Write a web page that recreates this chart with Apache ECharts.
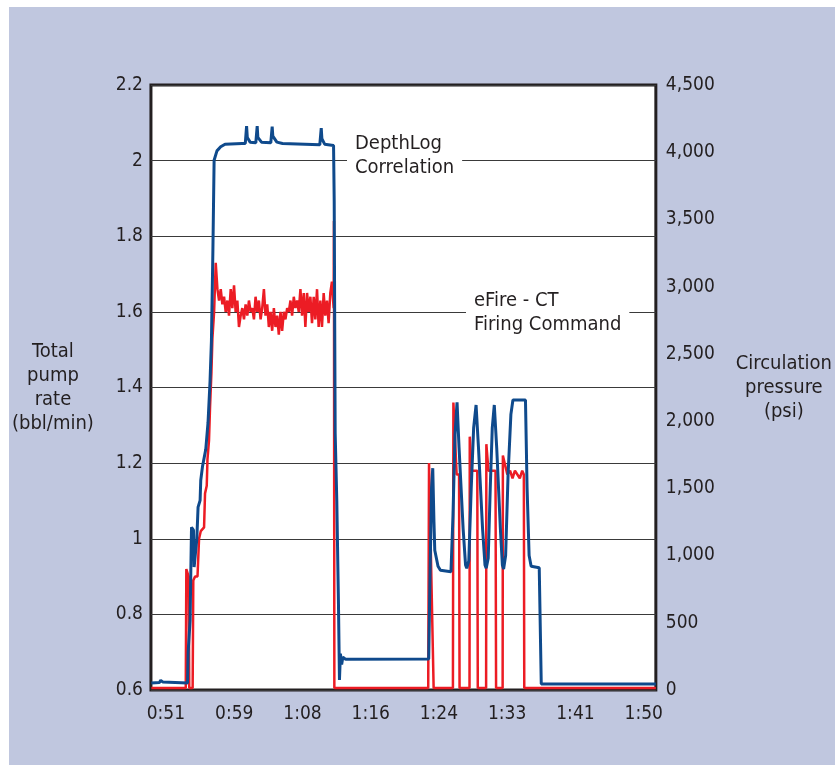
<!DOCTYPE html>
<html>
<head>
<meta charset="utf-8">
<script src="https://cdn.jsdelivr.net/npm/echarts@6/dist/echarts.min.js"></script>
<style>
  html, body { margin: 0; padding: 0; background: #fff; }
  #main { position: absolute; left: 9px; top: 7px; width: 826px; height: 758px; }
</style>
</head>
<body>
<div id="main"></div>
<script>
// time axis in minutes, tick labels as printed on the chart
var tickMinutes = [51, 59.43, 67.86, 76.29, 84.71, 93.14, 101.57, 110];
var tickLabels = ['0:51', '0:59', '1:08', '1:16', '1:24', '1:33', '1:41', '1:50'];

// total pump rate, bbl/min  [minute, value]
var pumpRate = [
  [49.2, 0.605], [53.45, 0.605], [53.52, 0.92], [53.8, 0.9], [53.88, 0.605],
  [54.3, 0.605], [54.38, 0.89], [54.6, 0.9], [54.9, 0.9], [55.09, 1.0],
  [55.3, 1.02], [55.71, 1.03], [55.83, 1.12], [56.04, 1.14], [56.13, 1.21],
  [56.32, 1.26], [56.45, 1.35], [56.62, 1.44], [56.74, 1.53], [56.95, 1.6],
  [57.15, 1.73], [57.36, 1.66], [57.56, 1.63], [57.77, 1.66], [57.97, 1.62],
  [58.18, 1.64], [58.38, 1.6], [58.59, 1.63], [58.79, 1.59], [59.0, 1.66],
  [59.2, 1.61], [59.41, 1.67], [59.61, 1.6], [59.82, 1.63], [60.02, 1.56],
  [60.23, 1.59], [60.43, 1.61], [60.64, 1.58], [60.84, 1.62], [61.05, 1.59],
  [61.25, 1.63], [61.46, 1.6], [61.66, 1.61], [61.87, 1.58], [62.07, 1.64],
  [62.28, 1.6], [62.48, 1.63], [62.69, 1.58], [62.89, 1.61], [63.1, 1.66],
  [63.3, 1.59], [63.51, 1.62], [63.71, 1.56], [63.92, 1.6], [64.12, 1.55],
  [64.33, 1.61], [64.53, 1.56], [64.74, 1.59], [64.94, 1.54], [65.15, 1.6],
  [65.35, 1.55], [65.56, 1.6], [65.76, 1.58], [65.97, 1.61], [66.17, 1.6],
  [66.38, 1.63], [66.58, 1.59], [66.79, 1.64], [66.99, 1.61], [67.2, 1.63],
  [67.4, 1.6], [67.61, 1.66], [67.81, 1.59], [68.02, 1.65], [68.22, 1.56],
  [68.43, 1.65], [68.63, 1.6], [68.84, 1.64], [69.04, 1.57], [69.25, 1.64],
  [69.45, 1.58], [69.66, 1.66], [69.86, 1.56], [70.07, 1.63], [70.27, 1.56],
  [70.48, 1.65], [70.68, 1.59], [70.89, 1.63], [71.09, 1.57], [71.3, 1.65],
  [71.5, 1.68], [71.71, 1.61], [71.75, 1.84], [71.8, 0.605],
  [83.39, 0.605], [83.49, 1.2], [83.7, 1.2], [84.06, 0.605],
  [86.44, 0.605], [86.5, 1.36], [86.65, 1.36], [86.9, 1.17], [87.2, 1.17], [87.26, 0.605],
  [88.49, 0.605], [88.52, 1.27], [88.74, 1.18], [89.45, 1.18], [89.51, 0.605],
  [90.54, 0.605], [90.57, 1.25], [90.83, 1.18], [91.7, 1.18], [91.77, 0.605],
  [92.58, 0.605], [92.61, 1.22], [93.16, 1.17], [93.5, 1.18], [93.8, 1.16],
  [94.1, 1.18], [94.4, 1.17], [94.7, 1.16], [95.0, 1.18], [95.2, 1.17], [95.25, 0.605],
  [111.5, 0.605]
];

// circulation pressure, psi  [minute, value]
var pressure = [
  [49.2, 52], [50.2, 55], [50.35, 72], [50.6, 60], [50.8, 52], [53.67, 52],
  [53.74, 280], [53.99, 520], [54.07, 870], [54.16, 1210], [54.4, 1190],
  [54.48, 915], [54.69, 915], [54.81, 1120], [54.97, 1360], [55.22, 1410],
  [55.3, 1560], [55.51, 1660], [55.92, 1790], [56.2, 1990], [56.45, 2300],
  [56.62, 2600], [56.8, 3270], [56.95, 3940], [57.3, 4010], [57.76, 4040],
  [58.3, 4060], [60.4, 4065], [60.8, 4065], [60.96, 4195], [61.05, 4110],
  [61.4, 4075], [62.1, 4070], [62.27, 4195], [62.35, 4110], [62.8, 4075],
  [63.95, 4070], [64.12, 4190], [64.2, 4120], [64.7, 4075], [65.4, 4065],
  [70.0, 4055], [70.18, 4180], [70.26, 4100], [70.6, 4060], [71.7, 4050],
  [71.78, 3640], [71.9, 1910], [72.1, 1410], [72.3, 670], [72.43, 75],
  [72.55, 270], [72.7, 190], [72.85, 245], [73.2, 228], [83.45, 230],
  [83.6, 800], [83.8, 1500], [83.95, 1650], [84.1, 1250], [84.2, 1040],
  [84.6, 920], [84.9, 890], [86.2, 880], [86.45, 1300], [86.7, 1900],
  [86.95, 2140], [87.2, 1800], [87.7, 1200], [88.0, 930], [88.15, 905],
  [88.4, 960], [88.7, 1500], [89.0, 1950], [89.3, 2120], [89.6, 1800],
  [90.1, 1200], [90.4, 930], [90.55, 905], [90.8, 980], [91.05, 1500],
  [91.3, 1950], [91.55, 2120], [91.85, 1800], [92.3, 1200], [92.55, 930],
  [92.7, 900], [92.95, 1000], [93.25, 1600], [93.6, 2050], [93.85, 2157],
  [95.4, 2157], [95.6, 1500], [95.85, 1000], [96.1, 920], [97.1, 910],
  [97.35, 45], [111.5, 45]
];

var FONT = '"Liberation Sans Narrow", "DejaVu Sans Condensed", "Roboto Condensed", "Arial Narrow", sans-serif';
var INK = '#231f20';

var chart = echarts.init(document.getElementById('main'));
chart.setOption({
  animation: false,
  backgroundColor: '#c0c7df',
  grid: {
    left: 141, top: 78, right: 178, bottom: 75,
    show: true,
    backgroundColor: '#fff',
    borderColor: INK,
    borderWidth: 3
  },
  xAxis: {
    type: 'value',
    min: 49.15,
    max: 111.5,
    axisLine: { show: false },
    axisTick: { show: false },
    splitLine: { show: false },
    axisLabel: {
      customValues: tickMinutes,
      margin: 15,
      color: INK,
      fontFamily: FONT,
      fontSize: 19,
      formatter: function (v) {
        var best = 0;
        for (var i = 1; i < tickMinutes.length; i++) {
          if (Math.abs(tickMinutes[i] - v) < Math.abs(tickMinutes[best] - v)) best = i;
        }
        return tickLabels[best];
      }
    }
  },
  yAxis: [
    {
      type: 'value',
      min: 0.6,
      max: 2.2,
      interval: 0.2,
      name: 'Total\npump\nrate\n(bbl/min)',
      nameLocation: 'middle',
      nameRotate: 0,
      nameGap: 98,
      nameTextStyle: { color: INK, fontFamily: FONT, fontSize: 20, lineHeight: 24, align: 'center' },
      axisLine: { show: false },
      axisTick: { show: false },
      splitLine: { show: true, lineStyle: { color: '#3a3a3a', width: 1.2 } },
      axisLabel: {
        margin: 8,
        color: INK,
        fontFamily: FONT,
        fontSize: 19,
        padding: [0, 0, 6, 0],
        formatter: function (v) { return String(+v.toFixed(1)); }
      }
    },
    {
      type: 'value',
      min: 0,
      max: 4500,
      interval: 500,
      position: 'right',
      name: 'Circulation\npressure\n(psi)',
      nameLocation: 'middle',
      nameRotate: 0,
      nameGap: 128,
      nameTextStyle: { color: INK, fontFamily: FONT, fontSize: 20, lineHeight: 24, align: 'center' },
      axisLine: { show: false },
      axisTick: { show: false },
      splitLine: { show: false },
      axisLabel: {
        margin: 10,
        color: INK,
        fontFamily: FONT,
        fontSize: 19,
        padding: [0, 0, 10, 0],
        formatter: function (v) { return v.toLocaleString('en-US'); }
      }
    }
  ],
  graphic: [
    {
      type: 'text',
      left: 338,
      top: 125,
      z: 100,
      style: {
        text: 'DepthLog\nCorrelation',
        font: '20px ' + FONT,
        fill: INK,
        lineHeight: 24,
        backgroundColor: '#fff',
        padding: [0, 8, 0, 8]
      }
    },
    {
      type: 'text',
      left: 457,
      top: 282,
      z: 100,
      style: {
        text: 'eFire - CT\nFiring Command',
        font: '20px ' + FONT,
        fill: INK,
        lineHeight: 24,
        backgroundColor: '#fff',
        padding: [0, 8, 0, 8]
      }
    }
  ],
  series: [
    {
      name: 'Total pump rate',
      type: 'line',
      yAxisIndex: 0,
      data: pumpRate,
      showSymbol: false,
      lineStyle: { color: '#ec1c24', width: 2.5 },
      itemStyle: { color: '#ec1c24' },
      z: 2
    },
    {
      name: 'Circulation pressure',
      type: 'line',
      yAxisIndex: 1,
      data: pressure,
      showSymbol: false,
      lineStyle: { color: '#0f4a8c', width: 3 },
      itemStyle: { color: '#0f4a8c' },
      z: 3
    }
  ]
});
</script>
</body>
</html>
